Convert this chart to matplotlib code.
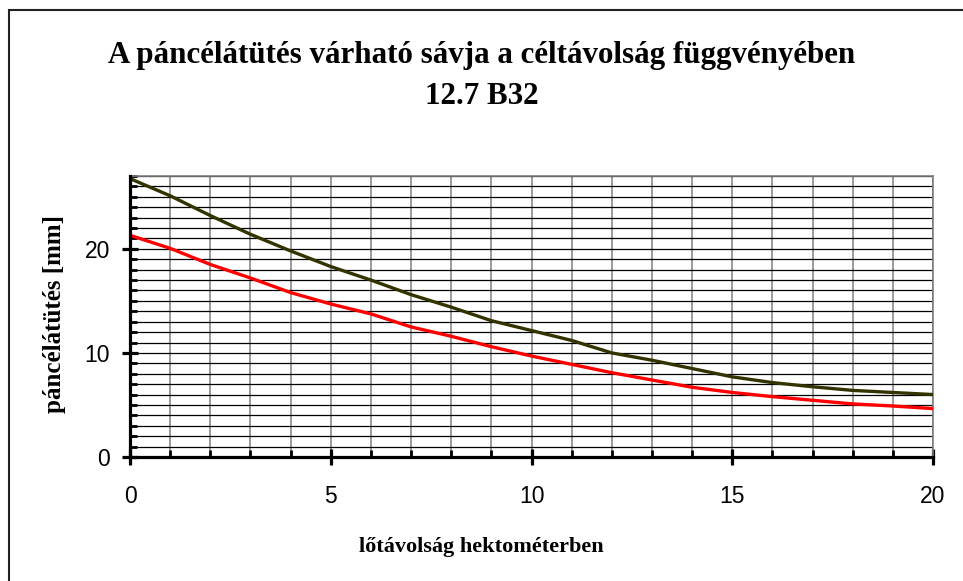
import matplotlib
matplotlib.use("Agg")
import matplotlib.pyplot as plt
from matplotlib.patches import Rectangle
from matplotlib.ticker import MultipleLocator

# Data
distance_hm = list(range(0, 21))
upper_mm = [26.75, 25.1, 23.2, 21.4, 19.8, 18.3, 17.0, 15.6, 14.4, 13.1, 12.15,
            11.2, 10.0, 9.3, 8.5, 7.7, 7.15, 6.75, 6.4, 6.2, 6.0]
lower_mm = [21.3, 20.05, 18.5, 17.2, 15.8, 14.7, 13.75, 12.5, 11.6, 10.6, 9.7,
            8.9, 8.1, 7.4, 6.7, 6.2, 5.8, 5.45, 5.1, 4.9, 4.65]
x_ticks = [0, 5, 10, 15, 20]
y_ticks = [0, 10, 20]

title1 = "A páncélátütés várható sávja a céltávolság függvényében"
title2 = "12.7 B32"
xlabel = "lőtávolság hektométerben"
ylabel = "páncélátütés [mm]"

W, H = 963, 581
fig = plt.figure(figsize=(W / 100, H / 100), dpi=100)
fig.patch.set_facecolor("white")

# outer frame (only left and top visible)
fig.patches.append(Rectangle((9 / W, -0.1), 1.2, (H - 10) / H + 0.1,
                             transform=fig.transFigure, fill=False,
                             edgecolor="#222222", linewidth=1.5))

ax = fig.add_axes([130 / W, 1 - 457 / H, (933 - 130) / W, (457 - 176) / H])

ax.set_xlim(0, 20)
ax.set_ylim(0, 27)

ax.plot(distance_hm, upper_mm, color="#333300", linewidth=2.4, zorder=3,
        solid_joinstyle="round")
ax.plot(distance_hm, lower_mm, color="#ff0000", linewidth=2.4, zorder=3,
        solid_joinstyle="round")

ax.set_xticks(x_ticks)
ax.set_yticks(y_ticks)
ax.xaxis.set_minor_locator(MultipleLocator(1))
ax.yaxis.set_minor_locator(MultipleLocator(1))

ax.grid(True, which="both", axis="x", color="#808080", linewidth=1.1, zorder=1)
ax.grid(True, which="both", axis="y", color="black", linewidth=0.9, zorder=1)

for s in ["left", "bottom"]:
    ax.spines[s].set_linewidth(2.3)
    ax.spines[s].set_color("black")
    ax.spines[s].set_zorder(4)
for s in ["top", "right"]:
    ax.spines[s].set_linewidth(1.2)
    ax.spines[s].set_color("#808080")

ax.tick_params(axis="both", which="major", direction="inout", length=11,
               width=2.3, color="black", labelsize=16.5)
ax.tick_params(axis="x", which="major", pad=15)
ax.tick_params(axis="y", which="major", pad=9)
ax.tick_params(axis="both", which="minor", direction="in", length=5,
               width=2.0, color="black")

for lab in ax.get_xticklabels() + ax.get_yticklabels():
    lab.set_fontfamily("Liberation Sans")

serif = "Liberation Serif"
fig.text(0.5, 1 - 63 / H, title1, ha="center", va="baseline",
         fontsize=22.3, fontweight="bold", family=serif)
fig.text(0.5, 1 - 104 / H, title2, ha="center", va="baseline",
         fontsize=22.3, fontweight="bold", family=serif)
fig.text(481 / W, 1 - 552 / H, xlabel, ha="center", va="baseline",
         fontsize=16, fontweight="bold", family=serif)
fig.text(55 / W, 1 - 314 / H, ylabel, ha="center", va="center",
         rotation=90, fontsize=18, fontweight="bold", family=serif)

fig.savefig("out.png", dpi=100, facecolor="white")
